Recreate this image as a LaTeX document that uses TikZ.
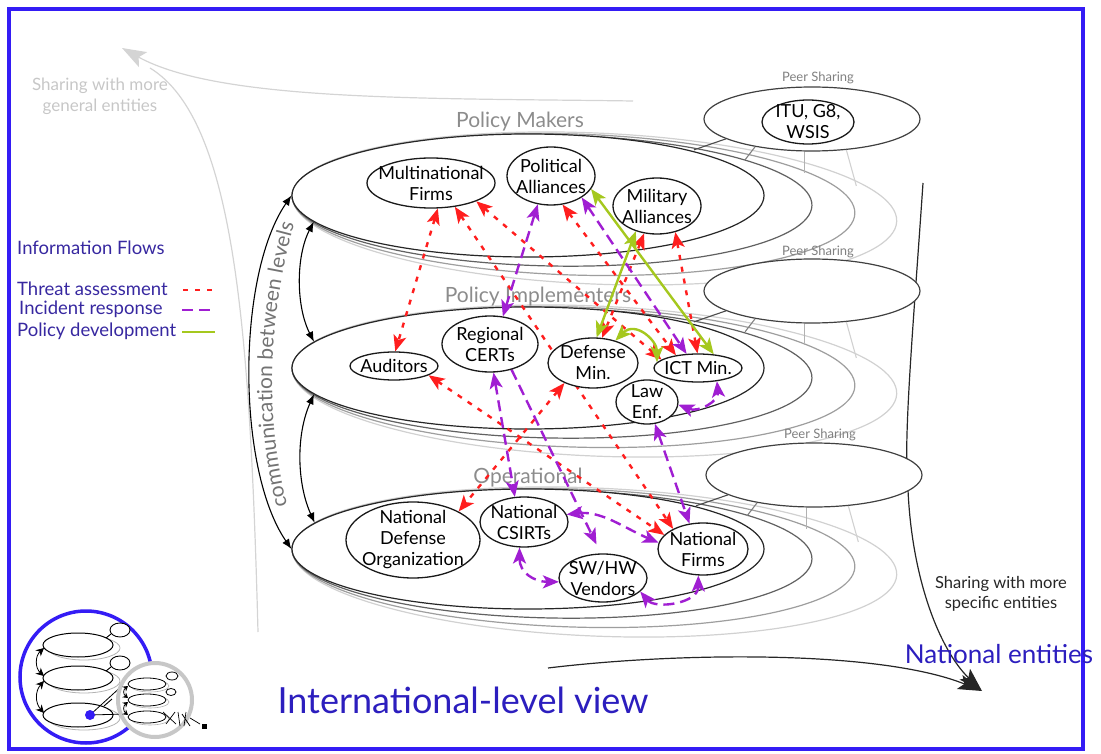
\documentclass[tikz,border=0pt]{standalone}
\usepackage{fontspec}
\setmainfont{Lato}
\usetikzlibrary{arrows.meta,shapes.geometric,decorations.text}

\definecolor{frameblue}{RGB}{52,28,245}
\definecolor{inkblue}{RGB}{44,30,190}
\definecolor{legendblue}{RGB}{55,40,160}
\definecolor{threat}{RGB}{255,30,30}
\definecolor{incident}{RGB}{160,30,210}
\definecolor{policy}{RGB}{165,200,30}

\pgfdeclarelayer{levels}
\pgfdeclarelayer{flows}
\pgfsetlayers{levels,flows,main}

% one level: three receding copies behind a front ellipse
% #1 centre y, #2 half height, #3 node name
\newcommand\levelstack[3]{%
  \draw[levelback, draw=black!18, rotate around={-2.46:(594.5,#1+13)}] (594.5,#1+13) ellipse [x radius=302.5, y radius=#2+14];
  \draw[levelback, draw=black!38, rotate around={-1.83:(573.5,#1+9)}] (573.5,#1+9) ellipse [x radius=281.5, y radius=#2+9];
  \draw[levelback, draw=black!62, rotate around={-1.10:(552,#1+5)}] (552,#1+5) ellipse [x radius=260, y radius=#2+4];
  \node[levelfront, minimum width=472pt, minimum height={2*#2*1pt}] (#3) at (528,#1) {};
}
% spokes from a peer-sharing ellipse down to the level copies
\newcommand\peerspokes[1]{%
  \draw[spoke, draw=black!70] (#1.193) -- ++(-32,11);
  \draw[spoke, draw=black!50] (#1.206) -- ++(-10,13);
  \draw[spoke, draw=black!30] (#1.257) -- ++(0,21);
  \draw[spoke, draw=black!18] (#1.-42) -- ++(10,36);
}
% entity: name, x, y, width, height, text
\newcommand\entity[6]{%
  \node[entity, minimum width=#4pt, minimum height=#5pt] (#1) at (#2,#3) {};
  \node[entitytext] (#1-label) at (#1.center) {#6};
}

\begin{document}
\begin{tikzpicture}[x=1pt, y=-1pt,
  entity/.style={ellipse, draw=black!90, line width=1.3pt, fill=white, inner sep=0pt},
  entitytext/.style={align=center, inner sep=0pt, font=\fontsize{18}{21}\selectfont},
  levelfront/.style={ellipse, draw=black!85, line width=1.2pt, fill=white, inner sep=0pt},
  levelback/.style={line width=1.2pt, fill=white},
  peer/.style={ellipse, draw=black!75, line width=1.2pt, fill=white, inner sep=0pt, minimum width=216pt, minimum height=64pt},
  spoke/.style={line width=1.1pt},
  levellabel/.style={text=black!45, font=\fontsize{21}{21}\selectfont},
  peerlabel/.style={text=black!50, font=\fontsize{13}{13}\selectfont},
  legendtext/.style={text=legendblue, font=\fontsize{18.5}{18.5}\selectfont, inner sep=0pt},
  flowtip/.tip={Stealth[length=16pt,width=13pt,inset=4pt]},
  threatstroke/.style={draw=threat, line width=2.4pt, dash pattern=on 5pt off 7pt},
  incidentstroke/.style={draw=incident, line width=2.4pt, dash pattern=on 11pt off 6pt},
  policystroke/.style={draw=policy, line width=2.4pt},
  threatflow/.style={threatstroke, arrows={flowtip-flowtip}},
  incidentflow/.style={incidentstroke, arrows={flowtip-flowtip}},
  policyflow/.style={policystroke, arrows={flowtip-flowtip}},
  commarrow/.style={draw=black, line width=1.1pt, arrows={Latex[length=10pt,width=8pt]-Latex[length=10pt,width=8pt]}},
  ]
\useasboundingbox (0,0) rectangle (1101,754);

% ---------------- levels, peers, framing curves ----------------
\begin{pgfonlayer}{levels}
  % widening arrow towards more general entities
  \coordinate (gentip) at (122,48);
  \coordinate (genfoot) at (258,632);
  \coordinate (genstart) at (633,101);
  \draw[black!17, line width=1.2pt, -{Stealth[length=24pt,width=17pt,inset=5pt]}]
    (genstart) .. controls (430,98) and (220,102) .. (gentip);
  \draw[black!17, line width=1.2pt] (genfoot) .. controls (250,330) and (235,120) .. (150,68);

  \levelstack{195.5}{61.5}{pm}
  \levelstack{368}{61}{pi}
  \levelstack{549}{60}{op}

  % path towards the national entities
  \coordinate (natend) at (982,691);
  \coordinate (railtop) at (923,183);
  \coordinate (railfoot) at (548,668);
  \draw[black!85, line width=1.2pt, -{Stealth[length=24pt,width=15pt,inset=5pt]}]
    (railtop) .. controls (913,330) and (903,440) .. (908,490)
    .. controls (912,580) and (940,650) .. (natend);
  \draw[black!85, line width=1.2pt, -{Stealth[length=24pt,width=15pt,inset=5pt]}]
    (railfoot) .. controls (680,652) and (880,650) .. (natend);

  % peer sharing
  \node[peer] (pe1) at (812,119) {};
  \node[peer] (pe2) at (812,291) {};
  \node[peer] (pe3) at (814,475) {};
  \peerspokes{pe1}
  \peerspokes{pe2}
  \peerspokes{pe3}
  \node[peerlabel] (pl1) at (818,78) {Peer Sharing};
  \node[peerlabel] (pl2) at (818,252) {Peer Sharing};
  \node[peerlabel] (pl3) at (820,435) {Peer Sharing};

  \node[levellabel] (pmlabel) at (520,122) {Policy Makers};
  \node[levellabel] (pilabel) at (538,297) {Policy Implementers};
  \node[levellabel] (oplabel) at (528,478) {Operational};

  % communication between levels
  \draw[commarrow] (pm.180) .. controls +(-55,80) and +(-55,-80) .. (op.180);
  \draw[commarrow] (pm.187) .. controls +(-18,35) and +(-18,-35) .. (pi.173);
  \draw[commarrow] (pi.187) .. controls +(-18,40) and +(-18,-40) .. (op.173);
  \path[decorate, decoration={text along path, text align=center,
      text={|\fontsize{21}{21}\selectfont\color{black!55}|communication between levels}}]
    (293,525) .. controls +(-32,-100) and +(-32,100) .. (300,205);
\end{pgfonlayer}

% ---------------- entities ----------------
\entity{itu}{808}{122}{92}{44}{ITU, G8,\\WSIS}

\entity{mf}{431}{183}{128}{50}{Multinational\\Firms}
\entity{pa}{551}{176}{88}{58}{Political\\Alliances}
\entity{ma}{657}{206}{88}{56}{Military\\Alliances}

\entity{aud}{394}{366}{88}{28}{Auditors}
\entity{rc}{490}{344}{96}{56}{Regional\\CERTs}
\entity{dm}{593}{363}{90}{50}{Defense\\Min.}
\entity{ict}{698}{368}{88}{28}{ICT Min.}
\entity{law}{647}{402}{62}{44}{Law\\Enf.}

\entity{ndo}{413}{540}{134}{76}{National\\Defense\\Organization}
\entity{csirt}{524}{522}{88}{50}{National\\CSIRTs}
\entity{vend}{603}{578}{88}{48}{SW/HW\\Vendors}
\entity{nf}{703}{549}{90}{52}{National\\Firms}

% ---------------- information flows ----------------
\begin{pgfonlayer}{flows}
  % threat assessment
  \draw[threatflow] (mf.-75) -- (aud.85);
  \draw[threatflow] (mf.-45) -- (nf.146);
  \draw[threatflow] (mf.-22) -- (ict.167);
  \draw[threatflow] (pa.-68) -- (ict.150);
  \draw[threatflow] (ma.-55) -- (ict.92);
  \draw[threatflow] (ma.-115) -- (dm.70);
  \draw[threatflow] (dm.215) -- (ndo.32);
  \draw[threatflow] (aud.-15) -- (nf.160);
  % incident response
  \draw[incidentflow] (pa.-115) -- (rc.65);
  \draw[incidentflow] (pa.-35) -- (ict.129);
  \draw[incidentflow] (rc.-83) -- (csirt.110);
  \draw[incidentstroke, arrows={-flowtip}, shorten >=10pt] (rc.-50) -- (vend.95);
  \draw[incidentflow] (law.-70) -- (nf.118);
  \draw[incidentflow] (law.-5) .. controls +(20,8) and +(2,20) .. (ict.-35);
  \draw[incidentflow] (csirt.10) .. controls +(35,-4) and +(-35,-15) .. (nf.172);
  \draw[incidentflow] (csirt.-100) .. controls +(0,25) and +(-25,0) .. (vend.185);
  \draw[incidentflow] (vend.-20) .. controls +(15,18) and +(0,28) .. (nf.-100);
  % policy development
  \draw[policyflow] (pa.-18) -- (ict.41);
  \draw[policyflow] (ma.-130) -- (dm.82);
  \draw[policyflow] (dm.45) .. controls +(20,-20) and +(0,-22) .. (ict.172);
\end{pgfonlayer}

% ---------------- legend and captions ----------------
\node[legendtext, anchor=west] (lgtitle) at (17,248) {Information Flows};
\node[legendtext, anchor=west] (lgthreat) at (17,289) {Threat assessment};
\node[legendtext, anchor=west] (lgincident) at (19,309) {Incident response};
\node[legendtext, anchor=west] (lgpolicy) at (17,331) {Policy development};
\draw[threatstroke] (183,290) -- (218,290);
\draw[incidentstroke] (182,310) -- (214,310);
\draw[policystroke] (182,332) -- (215,332);

\node[align=center, text=black!22, font=\fontsize{17}{21}\selectfont] (gentext) at (100,96)
  {Sharing with more\\general entities};
\node[align=center, text=black!85, font=\fontsize{16.5}{20}\selectfont] (spectext) at (1001,594)
  {Sharing with more\\specific entities};

% overview icon
\draw[frameblue, line width=3.5pt] (86,677) circle [radius=66];
\foreach \yy in {645,678,715} {
  \draw[black!30, line width=0.8pt] (84,\yy+3) ellipse [x radius=36, y radius=12];
  \draw[black, line width=1pt, fill=white] (78,\yy) ellipse [x radius=35, y radius=12];
}
\draw[black, line width=0.9pt, fill=white] (120,630) ellipse [x radius=10, y radius=7];
\draw[black, line width=0.9pt, fill=white] (120,663) ellipse [x radius=10, y radius=7];
\draw[black, line width=0.9pt] (106,638) -- (111,634) (106,671) -- (111,667) (104,706) -- (112,699);
\draw[black, line width=0.8pt, arrows={Stealth[length=8pt,width=8pt]-Stealth[length=8pt,width=8pt]}]
  (44,648) .. controls +(-9,8) and +(-9,-8) .. (44,676);
\draw[black, line width=0.8pt, arrows={Stealth[length=8pt,width=8pt]-Stealth[length=8pt,width=8pt]}]
  (44,681) .. controls +(-9,10) and +(-9,-10) .. (44,713);
\draw[black, line width=0.8pt] (90,715) -- (124,684) (90,715) -- (126,714);
\draw[black!22, line width=4pt, fill=white] (155,700) circle [radius=37];
\fill[frameblue] (90,715) circle [radius=5];
\foreach \yy in {684,700,717} {
  \draw[black!30, line width=0.6pt] (150,\yy+2) ellipse [x radius=19, y radius=6];
  \draw[black, line width=0.8pt, fill=white] (147,\yy) ellipse [x radius=19, y radius=6];
}
\draw[black, line width=0.8pt, fill=white] (172,676) ellipse [x radius=6, y radius=4];
\draw[black, line width=0.8pt, fill=white] (171,692) ellipse [x radius=5, y radius=3.5];
\draw[black, line width=0.8pt, arrows={Stealth[length=5pt,width=6pt]-Stealth[length=5pt,width=6pt]}]
  (128,686) .. controls +(-5,4) and +(-5,-4) .. (128,698);
\draw[black, line width=0.8pt, arrows={Stealth[length=5pt,width=6pt]-Stealth[length=5pt,width=6pt]}]
  (128,702) .. controls +(-5,4) and +(-5,-4) .. (128,715);
\draw[black, line width=0.7pt] (163,712) -- (176,724) (166,724) -- (175,712) (178,712) -- (180,726)
  (182,714) -- (190,726) (186,712) -- (184,726) (190,718) -- (200,724);
\fill[black] (202,724) rectangle (207,729);

% frame and titles
\draw[frameblue, line width=4pt] (9,9) rectangle (1083,749);
\node[text=inkblue, font=\fontsize{36}{36}\selectfont] (viewtitle) at (463,700) {International-level view};
\node[text=inkblue, font=\fontsize{26}{26}\selectfont] (natlabel) at (999,654) {National entities};
\end{tikzpicture}
\end{document}
